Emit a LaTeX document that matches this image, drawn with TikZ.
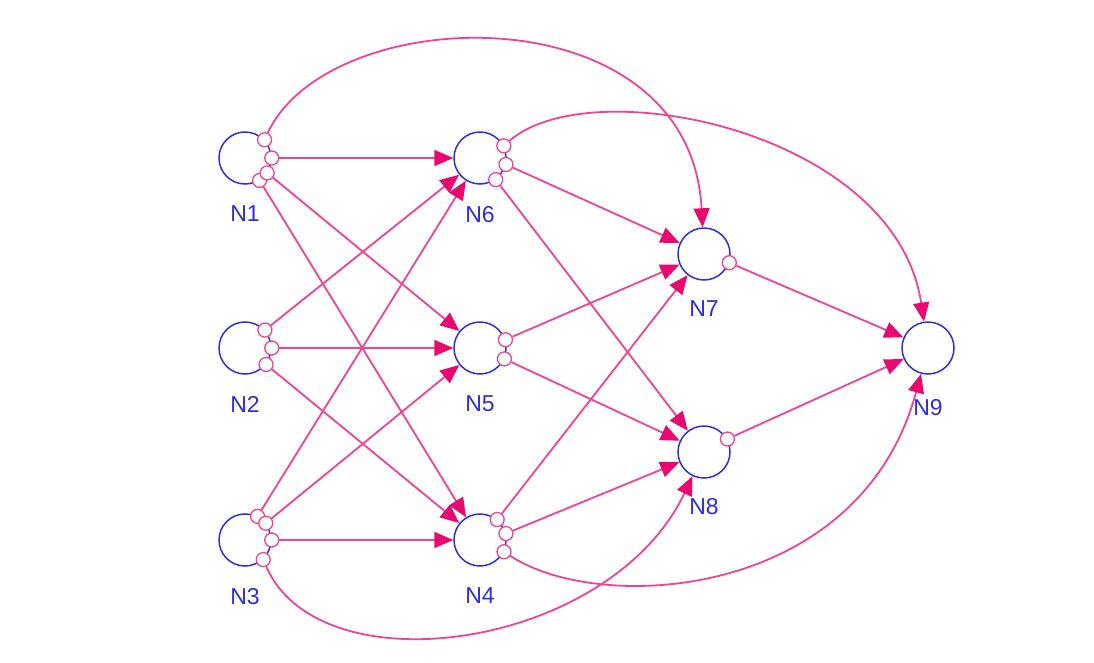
\documentclass[tikz,border=0pt]{standalone}
\usepackage{fontspec}
\setmainfont{Liberation Sans}
\usetikzlibrary{arrows.meta,positioning}
\definecolor{ringblue}{RGB}{45,45,220}
\definecolor{edgepink}{RGB}{238,68,145}
\definecolor{tippink}{RGB}{232,8,112}
\begin{document}
\begin{tikzpicture}[x=1pt,y=-1pt,
>={Triangle[length=19pt,width=16pt,color=tippink]},
unit/.style={circle,draw=ringblue,line width=1.5pt,minimum size=52pt,inner sep=0pt},
port/.style={circle,draw=edgepink,fill=white,line width=1.3pt,minimum size=14pt,inner sep=0pt},
lbl/.style={text=ringblue,font=\fontsize{23}{23}\selectfont,inner sep=0pt},
arr/.style={->,line width=1.8pt,edgepink}]
\useasboundingbox[fill=white] (0,0) rectangle (1094,662);
% units
\node[unit] (N1) at (245,158) {};
\node[unit] (N2) at (245,348) {};
\node[unit] (N3) at (245,540) {};
\node[unit] (N6) at (480,158) {};
\node[unit] (N5) at (480,348) {};
\node[unit] (N4) at (480,540) {};
\node[unit] (N7) at (704,254) {};
\node[unit] (N8) at (704,452) {};
\node[unit] (N9) at (928,348) {};
\node[lbl,below=21pt of N1] (L1) {N1};
\node[lbl,below=21pt of N2] (L2) {N2};
\node[lbl,below=21pt of N3] (L3) {N3};
\node[lbl,below=21pt of N6] (L6) {N6};
\node[lbl,below=21pt of N5] (L5) {N5};
\node[lbl,below=21pt of N4] (L4) {N4};
\node[lbl,below=20pt of N7] (L7) {N7};
\node[lbl,below=19pt of N8] (L8) {N8};
\node[lbl,below=24pt of N9] (L9) {N9};
% ports
\node[port] (N1a) at (N1.43) {};
\node[port] (N1b) at (N1.0) {};
\node[port] (N1d) at (N1.-57) {};
\node[port] (N1c) at (N1.-34) {};
\node[port] (N2a) at (N2.42) {};
\node[port] (N2b) at (N2.0) {};
\node[port] (N2c) at (N2.-38) {};
\node[port] (N3a) at (N3.62) {};
\node[port] (N3b) at (N3.39) {};
\node[port] (N3c) at (N3.0) {};
\node[port] (N3d) at (N3.-47) {};
\node[port] (N6a) at (N6.27) {};
\node[port] (N6b) at (N6.-14) {};
\node[port] (N6c) at (N6.-54) {};
\node[port] (N5a) at (N5.18) {};
\node[port] (N5b) at (N5.-24) {};
\node[port] (N4a) at (N4.50) {};
\node[port] (N4b) at (N4.14) {};
\node[port] (N4c) at (N4.-26) {};
\node[port] (N7a) at (N7.-19) {};
\node[port] (N8a) at (N8.29) {};
% first layer
\draw[arr] (N1b)--(N6);
\draw[arr] (N1c)--(N5);
\draw[arr] (N1d)--(N4);
\draw[arr] (N2a)--(N6);
\draw[arr] (N2b)--(N5);
\draw[arr] (N2c)--(N4);
\draw[arr] (N3a)--(N6);
\draw[arr] (N3b)--(N5);
\draw[arr] (N3c)--(N4);
% second layer
\draw[arr] (N6b)--(N7);
\draw[arr] (N6c)--(N8);
\draw[arr] (N5a)--(N7);
\draw[arr] (N5b)--(N8);
\draw[arr] (N4a)--(N7);
\draw[arr] (N4b)--(N8);
\draw[arr] (N7a)--(N9);
\draw[arr] (N8a)--(N9);
% long arcs
\draw[arr] (N1a) .. controls (330,0) and (690,-10) .. (N7);
\draw[arr] (N6a) .. controls (590,70) and (895,130) .. (N9);
\draw[arr] (N3d) .. controls (320,690) and (610,650) .. (N8);
\draw[arr] (N4c) .. controls (600,615) and (860,600) .. (N9);
\end{tikzpicture}
\end{document}
